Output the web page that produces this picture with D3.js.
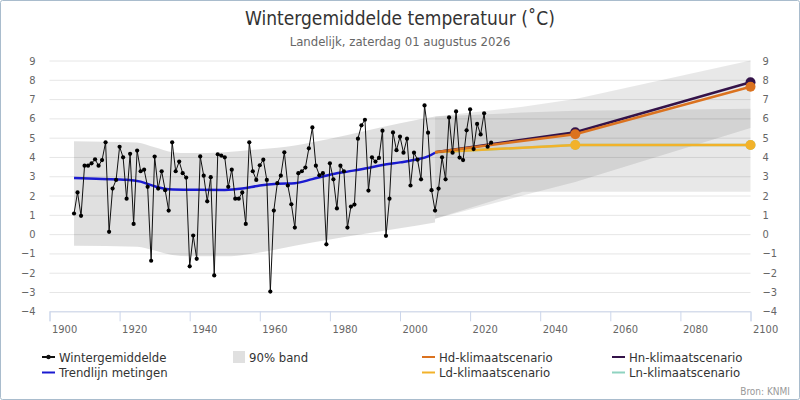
<!DOCTYPE html>
<html>
<head>
<meta charset="utf-8">
<script src="https://cdn.jsdelivr.net/npm/d3@7"></script>
<style>
  body { margin: 0; background: #fff; }
  svg text { font-family: "DejaVu Sans Condensed", "DejaVu Sans", sans-serif; font-stretch: condensed; }
</style>
</head>
<body>
<div id="chart"></div>
<script>
// winter means, one value per year starting 1907
const firstYear = 1907;
const winterMean = [
  1.07, 2.16, 0.95, 3.55, 3.55, 3.67, 3.88, 3.55, 3.84, 4.76,
  0.12, 2.36, 2.81, 4.53, 3.98, 1.84, 4.16, 0.53, 4.33, 3.26,
  3.34, 2.45, -1.38, 4.02, 2.36, 3.26, 2.28, 1.22, 4.76, 3.26,
  3.76, 3.16, 2.93, -1.67, -0.07, -1.28, 4.03, 3.03, 1.7, 2.95,
  -2.14, 4.14, 4.07, 3.98, 2.45, 3.34, 1.84, 1.84, 2.16, 0.53,
  4.76, 3.26, 2.81, 3.57, 3.86, 2.81, -2.98, 1.22, 2.64, 3.03,
  4.24, 2.52, 1.55, 0.34, 3.16, 3.26, 3.45, 4.45, 5.53, 3.55,
  3.05, 3.16, -0.53, 3.67, 2.84, 1.33, 3.55, 3.26, 0.34, 1.43,
  1.53, 4.95, 5.64, 5.93, 2.26, 3.98, 3.76, 3.95, 5.36, -0.09,
  1.84, 5.27, 4.35, 5.05, 4.22, 4.95, 2.52, 4.22, 3.86, 2.84,
  6.67, 5.26, 2.28, 1.22, 2.36, 3.98, 2.84, 6.05, 4.22, 6.36,
  3.97, 3.84, 5.38, 6.47, 4.41, 5.71, 5.17, 6.26, 4.53, 4.74
];
const years = d3.range(firstYear, firstYear + winterMean.length);

// trend line of the measurements
const trendYears  = [1907, 1915, 1922, 1926, 1930, 1934, 1940, 1950, 1955, 1960, 1965, 1970, 1975, 1980, 1985, 1990, 1995, 2000, 2005, 2008, 2010];
const trendValues = [2.91, 2.86, 2.82, 2.72, 2.48, 2.33, 2.30, 2.29, 2.36, 2.52, 2.61, 2.64, 2.85, 3.08, 3.24, 3.40, 3.58, 3.72, 3.88, 4.03, 4.22];

// 90% band around the measurements
const bandYears = [1907, 1925, 1930, 1935, 1940, 1950, 1960, 1970, 1980, 1990, 2000, 2010];
const bandLower = [-0.6, -0.65, -0.85, -1.08, -1.15, -1.15, -0.95, -0.6, -0.28, 0.02, 0.3, 0.6];
const bandUpper = [4.82, 4.75, 4.5, 4.25, 4.2, 4.25, 4.4, 4.6, 4.95, 5.35, 5.75, 6.1];

// climate scenarios
const scenarioYears = [2010, 2050, 2100];
const hdValues = [4.25, 5.18, 7.64];
const hnValues = [4.25, 5.28, 7.87];
const ldValues = [4.25, 4.62, 4.62];
const lnValues = [4.25, 4.62, 4.62];

// 90% bands of the scenarios (low = L, high = H)
const scenBandYears = [2010, 2035, 2050, 2100];
const lowLower  = [0.8, 2.2, 2.2, 2.2];
const lowUpper  = [6.1, 6.3, 6.4, 6.5];
const highLower = [0.8, 2.0, 2.7, 5.5];
const highUpper = [6.1, 6.6, 7.0, 9.0];

const xTicks = d3.range(1900, 2101, 20);
const yTicks = d3.range(-4, 10, 1);

const width = 800;
const height = 400;
const plot = { left: 49.5, right: 750.5, top: 60.5, bottom: 311.3 };

const svg = d3.select('#chart')
  .append('svg')
    .attr('width', width)
    .attr('height', height);

svg.append('rect')
  .attr('x', 0.5).attr('y', 0.5)
  .attr('width', width - 1).attr('height', height - 1)
  .attr('rx', 2)
  .attr('fill', '#fff')
  .attr('stroke', '#a9bccd');

// title + subtitle
svg.append('text')
  .attr('x', width / 2).attr('y', 25)
  .attr('text-anchor', 'middle')
  .attr('font-size', '19px')
  .attr('fill', '#333')
  .text('Wintergemiddelde temperatuur (˚C)');

svg.append('text')
  .attr('x', width / 2).attr('y', 46)
  .attr('text-anchor', 'middle')
  .attr('font-size', '13px')
  .attr('fill', '#666')
  .text('Landelijk, zaterdag 01 augustus 2026');

const x = d3.scaleLinear().domain([1900, 2100]).range([plot.left, plot.right]);
const y = d3.scaleLinear().domain([-4, 9]).range([plot.bottom, plot.top]);

// gridlines
const grid = svg.append('g')
  .attr('transform', `translate(${plot.left},0)`)
  .call(d3.axisLeft(y).tickValues(yTicks).tickSize(-(plot.right - plot.left)).tickFormat(''));
grid.select('.domain').remove();
grid.selectAll('line').attr('stroke', '#e6e6e6');

// y labels left and right
const yLeft = svg.append('g')
  .attr('transform', `translate(${plot.left},0)`)
  .call(d3.axisLeft(y).tickValues(yTicks).tickSize(0).tickPadding(14));
yLeft.select('.domain').remove();

const yRight = svg.append('g')
  .attr('transform', `translate(${plot.right},0)`)
  .call(d3.axisRight(y).tickValues(yTicks).tickSize(0).tickPadding(12));
yRight.select('.domain').remove();

[yLeft, yRight].forEach(g => g.selectAll('text')
  .attr('font-size', '11px')
  .attr('fill', '#666')
  .attr('font-family', null));

// bands
const bandArea = d3.area()
  .x(d => x(d.year))
  .y0(d => y(d.lo))
  .y1(d => y(d.hi))
  .curve(d3.curveMonotoneX);

svg.append('path')
  .datum(bandYears.map((yr, i) => ({ year: yr, lo: bandLower[i], hi: bandUpper[i] })))
  .attr('d', bandArea)
  .attr('fill', '#000')
  .attr('fill-opacity', 0.12);

const scenArea = d3.area()
  .x(d => x(d.year))
  .y0(d => y(d.lo))
  .y1(d => y(d.hi));

[[lowLower, lowUpper], [highLower, highUpper]].forEach(([lo, hi]) => {
  svg.append('path')
    .datum(scenBandYears.map((yr, i) => ({ year: yr, lo: lo[i], hi: hi[i] })))
    .attr('d', scenArea)
    .attr('fill', '#000')
    .attr('fill-opacity', 0.09);
});

// x axis
const xAxis = svg.append('g')
  .attr('transform', `translate(0,${plot.bottom})`)
  .call(d3.axisBottom(x).tickValues(xTicks).tickSize(10).tickFormat(d3.format('d')));
xAxis.select('.domain').attr('stroke', '#ccd6eb');
xAxis.selectAll('line').attr('stroke', '#ccd6eb');
xAxis.selectAll('text')
  .attr('font-size', '11px')
  .attr('fill', '#666')
  .attr('font-family', null)
  .attr('text-anchor', 'start')
  .attr('dx', 2)
  .attr('y', 14)
  .attr('dy', '0.71em');

// trend line
svg.append('path')
  .datum(trendYears.map((yr, i) => [yr, trendValues[i]]))
  .attr('d', d3.line().x(d => x(d[0])).y(d => y(d[1])).curve(d3.curveMonotoneX))
  .attr('fill', 'none')
  .attr('stroke', '#1a1ad0')
  .attr('stroke-width', 2.5);

// scenarios (Ln first so Ld covers it, Hd on top of Hn)
const scenarios = [
  { name: 'Ln', values: lnValues, color: '#8fd3c0' },
  { name: 'Ld', values: ldValues, color: '#f2b22a' },
  { name: 'Hd', values: hdValues, color: '#db721f' },
  { name: 'Hn', values: hnValues, color: '#341349' }
];
const scenOrder = ['Ln', 'Ld', 'Hn', 'Hd'];
scenOrder.map(n => scenarios.find(s => s.name === n)).forEach(s => {
  const pts = scenarioYears.map((yr, i) => [yr, s.values[i]]);
  svg.append('path')
    .datum(pts)
    .attr('d', d3.line().x(d => x(d[0])).y(d => y(d[1])))
    .attr('fill', 'none')
    .attr('stroke', s.color)
    .attr('stroke-width', 2.5);
  svg.selectAll(null)
    .data(pts.slice(1))
    .enter()
    .append('circle')
      .attr('cx', d => x(d[0]))
      .attr('cy', d => y(d[1]))
      .attr('r', 5)
      .attr('fill', s.color);
});

// observations
const obs = years.map((yr, i) => [yr, winterMean[i]]);
svg.append('path')
  .datum(obs)
  .attr('d', d3.line().x(d => x(d[0])).y(d => y(d[1])))
  .attr('fill', 'none')
  .attr('stroke', '#111')
  .attr('stroke-width', 1);

svg.selectAll('.obs')
  .data(obs)
  .enter()
  .append('circle')
    .attr('class', 'obs')
    .attr('cx', d => x(d[0]))
    .attr('cy', d => y(d[1]))
    .attr('r', 2.1)
    .attr('fill', '#000');

// legend
const legendItems = [
  { label: 'Wintergemiddelde', type: 'dot', color: '#111', col: 0, row: 0 },
  { label: 'Trendlijn metingen', type: 'line', color: '#1a1ad0', col: 0, row: 1 },
  { label: '90% band', type: 'box', color: '#e0e0e0', col: 1, row: 0 },
  { label: 'Hd-klimaatscenario', type: 'line', color: '#db721f', col: 2, row: 0 },
  { label: 'Ld-klimaatscenario', type: 'line', color: '#f2b22a', col: 2, row: 1 },
  { label: 'Hn-klimaatscenario', type: 'line', color: '#341349', col: 3, row: 0 },
  { label: 'Ln-klimaatscenario', type: 'line', color: '#8fd3c0', col: 3, row: 1 }
];
const colX = [42, 232, 422, 612];

const legend = svg.append('g');
legendItems.forEach(item => {
  const gx = colX[item.col];
  const gy = 357 + item.row * 15.5;
  const g = legend.append('g').attr('transform', `translate(${gx},${gy})`);
  if (item.type === 'box') {
    g.append('rect')
      .attr('x', 1).attr('y', -6)
      .attr('width', 12).attr('height', 12)
      .attr('fill', item.color);
  } else {
    g.append('line')
      .attr('x1', 0).attr('x2', 13)
      .attr('stroke', item.color)
      .attr('stroke-width', 2);
    if (item.type === 'dot') {
      g.append('circle').attr('cx', 6.5).attr('r', 2.2).attr('fill', item.color);
    }
  }
  g.append('text')
    .attr('x', 17)
    .attr('dy', '0.35em')
    .attr('font-size', '13px')
    .attr('fill', '#333')
    .text(item.label);
});

svg.append('text')
  .attr('x', 790).attr('y', 395)
  .attr('text-anchor', 'end')
  .attr('font-size', '10px')
  .attr('fill', '#999')
  .text('Bron: KNMI');
</script>
</body>
</html>
